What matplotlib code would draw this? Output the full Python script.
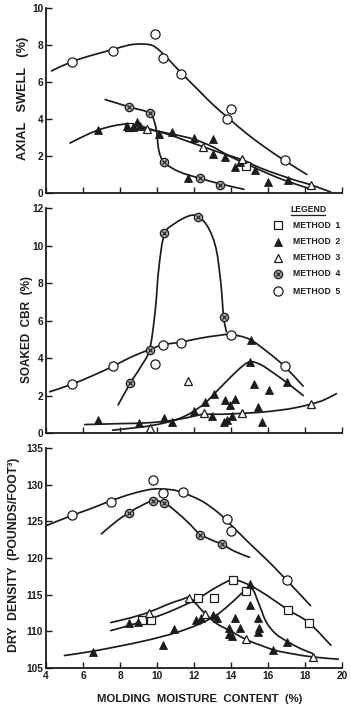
import numpy as np
import matplotlib
matplotlib.use("Agg")
import matplotlib.pyplot as plt
from matplotlib.path import Path
from matplotlib.patches import PathPatch


# ---- axial swell (%) ----
swell_m1_x = [8.5, 14.8]
swell_m1_y = [3.55, 1.45]
swell_m2_x = [6.8, 8.4, 8.7, 8.9, 9.1, 10.1, 10.8, 11.7, 12.0, 13.0, 13.0, 13.7, 14.2, 14.5, 15.3, 16.0, 17.1]
swell_m2_y = [3.4, 3.6, 3.55, 3.85, 3.6, 3.2, 3.3, 0.82, 2.95, 2.9, 2.1, 1.95, 1.4, 1.7, 1.25, 0.6, 0.7]
swell_m3_x = [9.45, 12.5, 14.6, 18.3]
swell_m3_y = [3.45, 2.5, 1.85, 0.45]
swell_m4_x = [8.5, 9.6, 10.4, 12.3, 13.4]
swell_m4_y = [4.65, 4.3, 1.65, 0.8, 0.45]
swell_m5_x = [5.4, 7.6, 9.9, 10.3, 11.3, 13.8, 14.0, 16.9]
swell_m5_y = [7.1, 7.7, 8.6, 7.3, 6.45, 4.0, 4.55, 1.8]

swell_fit_m2_x = [5.3, 6.0, 6.8, 7.6, 8.3, 9.0, 10.0, 11.0, 12.0, 13.0, 14.0, 15.0, 16.0, 17.0, 18.2]
swell_fit_m2_y = [2.7, 3.05, 3.4, 3.62, 3.72, 3.65, 3.35, 3.15, 2.9, 2.5, 1.95, 1.5, 1.05, 0.65, 0.25]
swell_fit_m3_x = [8.3, 9.45, 10.5, 11.5, 12.5, 13.5, 14.6, 15.6, 16.7, 17.6, 18.3, 19.4]
swell_fit_m3_y = [3.55, 3.45, 3.2, 2.85, 2.5, 2.15, 1.8, 1.35, 0.95, 0.65, 0.45, 0.05]
swell_fit_m4_x = [7.2, 8.5, 9.6, 9.95, 10.1, 10.4, 11.2, 12.3, 13.4, 14.7]
swell_fit_m4_y = [5.05, 4.65, 4.3, 3.5, 2.3, 1.65, 1.15, 0.8, 0.5, 0.2]
swell_fit_m5_x = [4.3, 5.4, 6.5, 7.6, 8.5, 9.2, 9.8, 10.4, 11.3, 12.2, 13.0, 13.8, 14.8, 15.8, 16.9, 18.1]
swell_fit_m5_y = [6.6, 7.1, 7.45, 7.75, 8.0, 8.05, 7.95, 7.45, 6.5, 5.6, 4.8, 4.1, 3.25, 2.5, 1.75, 1.0]

# ---- soaked CBR (%) ----
cbr_m2_x = [6.8, 9.0, 10.4, 10.8, 12.0, 12.6, 12.95, 13.1, 13.7, 13.95, 14.2, 13.6, 13.8, 14.05,
            15.05, 15.1, 15.25, 16.05, 15.45, 15.7, 17.0]
cbr_m2_y = [0.7, 0.55, 0.8, 0.6, 1.15, 1.65, 0.9, 2.1, 1.75, 1.5, 1.8, 0.6, 0.7, 0.9,
            3.8, 4.95, 2.6, 2.3, 1.4, 0.6, 2.7]
cbr_m3_x = [9.6, 11.7, 12.55, 14.6, 18.35]
cbr_m3_y = [0.25, 2.75, 1.05, 1.05, 1.55]
cbr_m4_x = [8.55, 9.6, 10.4, 12.2, 13.6]
cbr_m4_y = [2.65, 4.45, 10.65, 11.5, 6.2]
cbr_m5_x = [5.4, 7.6, 9.9, 10.3, 11.3, 14.0, 16.9]
cbr_m5_y = [2.6, 3.55, 3.7, 4.7, 4.8, 5.25, 3.6]

cbr_fit_m2_x = [7.6, 9.0, 10.0, 11.0, 11.8, 12.6, 13.3, 14.0, 14.6, 15.05, 15.6, 16.3, 17.0, 17.9]
cbr_fit_m2_y = [0.15, 0.3, 0.45, 0.7, 1.05, 1.6, 2.3, 3.0, 3.55, 3.8, 3.65, 3.2, 2.7, 2.0]
cbr_fit_m3_x = [6.1, 8.0, 9.6, 11.0, 12.0, 12.55, 13.5, 14.6, 15.5, 16.5, 17.5, 18.35, 19.0, 19.7]
cbr_fit_m3_y = [0.45, 0.5, 0.55, 0.7, 0.9, 1.0, 1.0, 1.05, 1.1, 1.2, 1.35, 1.55, 1.75, 2.1]
cbr_fit_m4_x = [7.9, 8.55, 9.1, 9.6, 9.9, 10.1, 10.4, 11.0, 11.8, 12.3, 12.8, 13.2, 13.45, 13.6, 13.75]
cbr_fit_m4_y = [1.5, 2.65, 3.5, 4.45, 6.5, 8.8, 10.6, 11.2, 11.6, 11.5, 10.9, 9.8, 8.0, 6.2, 5.4]
cbr_fit_m5_x = [4.2, 5.4, 6.5, 7.6, 8.6, 9.6, 10.3, 11.3, 12.3, 13.3, 14.0, 15.0, 16.0, 16.9, 17.9]
cbr_fit_m5_y = [2.2, 2.6, 3.05, 3.55, 4.05, 4.45, 4.7, 4.85, 5.05, 5.2, 5.25, 5.0, 4.3, 3.55, 2.5]

# ---- dry density (pcf) ----
dens_m1_x = [9.2, 9.65, 12.2, 13.1, 14.1, 14.8, 17.1, 18.2]
dens_m1_y = [111.5, 111.5, 114.5, 114.5, 117.0, 115.5, 112.9, 111.2]
dens_m2_x = [6.55, 8.5, 8.95, 10.3, 10.9, 12.1, 12.4, 13.05, 13.25, 13.9, 13.9, 14.05, 14.2, 14.5,
             15.05, 15.0, 15.45, 15.5, 15.45, 16.25, 17.05]
dens_m2_y = [107.2, 111.1, 111.3, 108.2, 110.3, 111.6, 111.8, 112.2, 111.8, 110.4, 109.7, 109.3, 111.8, 110.4,
             116.4, 113.6, 111.8, 110.4, 109.9, 107.5, 108.6]
dens_m3_x = [9.55, 11.75, 12.6, 14.8, 18.45]
dens_m3_y = [112.5, 114.5, 112.3, 108.9, 106.5]
dens_m4_x = [8.5, 9.8, 10.4, 12.3, 13.5]
dens_m4_y = [126.2, 127.8, 127.5, 123.2, 121.9]
dens_m5_x = [5.4, 7.5, 9.8, 10.3, 11.4, 13.8, 14.0, 17.0]
dens_m5_y = [125.8, 127.7, 130.6, 128.8, 129.0, 125.3, 123.7, 117.0]

dens_fit_m1_x = [7.5, 8.5, 9.5, 10.5, 11.5, 12.3, 13.2, 14.1, 15.0, 16.0, 17.1, 18.2, 19.4]
dens_fit_m1_y = [110.1, 110.8, 111.6, 112.5, 113.6, 114.6, 116.0, 117.0, 116.3, 114.8, 112.9, 111.2, 108.1]
dens_fit_m2_x = [5.0, 6.55, 8.0, 9.5, 11.0, 12.3, 13.2, 13.9, 14.5, 14.9, 15.2, 15.5, 15.9, 16.4, 17.05, 17.8, 18.4]
dens_fit_m2_y = [106.7, 107.3, 108.0, 108.8, 109.8, 111.0, 112.2, 113.6, 115.0, 115.9, 115.6, 113.8, 111.3, 109.7,
                 108.6, 107.6, 107.0]
dens_fit_m3_x = [7.5, 8.5, 9.55, 10.6, 11.3, 11.75, 12.2, 12.6, 13.2, 14.0, 14.8, 15.6, 16.4, 17.4, 18.45, 19.8]
dens_fit_m3_y = [111.2, 111.8, 112.6, 113.7, 114.3, 114.6, 113.5, 112.4, 111.1, 110.0, 108.9, 108.1, 107.4, 106.9,
                 106.5, 106.2]
dens_fit_m4_x = [7.0, 7.8, 8.5, 9.2, 9.8, 10.4, 11.0, 11.7, 12.3, 13.0, 13.5, 14.2, 15.0]
dens_fit_m4_y = [123.3, 125.0, 126.2, 127.2, 127.8, 127.5, 126.4, 124.8, 123.3, 122.4, 121.9, 120.9, 120.1]
dens_fit_m5_x = [4.0, 5.4, 6.5, 7.5, 8.7, 9.8, 10.8, 11.4, 12.4, 13.3, 14.0, 15.0, 16.0, 17.0, 18.3]
dens_fit_m5_y = [124.4, 125.8, 126.8, 127.8, 128.8, 129.4, 129.3, 128.9, 127.8, 126.2, 124.5, 122.0, 119.6, 117.0,
                 113.5]

method_labels = ["METHOD  1", "METHOD  2", "METHOD  3", "METHOD  4", "METHOD  5"]
x_ticks = [4, 6, 8, 10, 12, 14, 16, 18, 20]

INK = "#1c1c1c"
FONT = "Liberation Sans"

MARKERS = {
    1: dict(marker="s", ms=5.2, mfc="white", mec=INK, mew=0.9),
    2: dict(marker="^", ms=6.0, mfc=INK, mec=INK, mew=0.6),
    3: dict(marker="^", ms=6.4, mfc="white", mec=INK, mew=0.9),
    4: dict(marker="o", ms=6.0, mfc="#a8a8a8", mec=INK, mew=0.9),
    5: dict(marker="o", ms=6.6, mfc="white", mec=INK, mew=0.9),
}


def smooth_curve(ax, xs, ys):
    # Catmull-Rom style bezier through the fitted curve's control points
    pts = np.column_stack([xs, ys]).astype(float)
    padded = np.vstack([pts[0], pts, pts[-1]])
    verts = [pts[0]]
    codes = [Path.MOVETO]
    for i in range(1, len(padded) - 2):
        p0, p1, p2, p3 = padded[i - 1], padded[i], padded[i + 1], padded[i + 2]
        verts += [p1 + (p2 - p0) / 6.0, p2 - (p3 - p1) / 6.0, p2]
        codes += [Path.CURVE4] * 3
    ax.add_patch(PathPatch(Path(verts, codes), fill=False, edgecolor=INK, lw=1.25,
                           capstyle="round", zorder=2))


def scatter_method(ax, method, xs, ys, transform=None):
    kwargs = dict(MARKERS[method])
    extra = {} if transform is None else dict(transform=transform, clip_on=False)
    ax.plot(xs, ys, ls="none", zorder=4, **kwargs, **extra)
    if method == 4:
        ax.plot(xs, ys, ls="none", marker="x", ms=3.4, mec=INK, mew=0.8, zorder=5, **extra)


def style_axes(ax, ylim, yticks, show_xlabels):
    ax.set_xlim(4, 20)
    ax.set_ylim(*ylim)
    ax.set_xticks(x_ticks)
    ax.set_yticks(yticks)
    for side in ("top", "right"):
        ax.spines[side].set_visible(False)
    for side in ("left", "bottom"):
        ax.spines[side].set_linewidth(1.3)
        ax.spines[side].set_color(INK)
    ax.tick_params(direction="in", length=4, width=1.0, color=INK, pad=2,
                   labelsize=7.3, labelcolor=INK)
    for lab in ax.get_yticklabels() + ax.get_xticklabels():
        lab.set_fontweight("bold")
        lab.set_fontfamily(FONT)
    if not show_xlabels:
        ax.set_xticklabels([])


def set_ylabel(ax, text, x, y, size=8.5):
    ax.set_ylabel(text, fontsize=size, fontweight="bold", fontfamily=FONT, color=INK,
                  va="center")
    ax.yaxis.set_label_coords(x, y)


def draw_legend(ax):
    ax.text(0.885, 0.992, "LEGEND", transform=ax.transAxes, ha="center", va="center",
            fontsize=6.2, fontweight="bold", fontfamily=FONT, color=INK)
    ax.plot([0.827, 0.943], [0.968, 0.968], transform=ax.transAxes, color=INK, lw=0.9,
            clip_on=False)
    rows = [0.924, 0.849, 0.778, 0.707, 0.631]
    for method, label, yy in zip(range(1, 6), method_labels, rows):
        scatter_method(ax, method, [0.784], [yy], transform=ax.transAxes)
        ax.text(0.834, yy, label, transform=ax.transAxes, ha="left", va="center",
                fontsize=6.2, fontweight="bold", fontfamily=FONT, color=INK)


def main():
    fig = plt.figure(figsize=(3.51, 7.04), dpi=100)
    left, width = 46 / 351, 296 / 351
    ax_swell = fig.add_axes([left, 1 - 193 / 704, width, 185 / 704])
    ax_cbr = fig.add_axes([left, 1 - 433 / 704, width, 225 / 704])
    ax_dens = fig.add_axes([left, 1 - 668 / 704, width, 220 / 704])

    # axial swell
    for fx, fy in [(swell_fit_m2_x, swell_fit_m2_y), (swell_fit_m3_x, swell_fit_m3_y),
                   (swell_fit_m4_x, swell_fit_m4_y), (swell_fit_m5_x, swell_fit_m5_y)]:
        smooth_curve(ax_swell, fx, fy)
    scatter_method(ax_swell, 1, swell_m1_x, swell_m1_y)
    scatter_method(ax_swell, 2, swell_m2_x, swell_m2_y)
    scatter_method(ax_swell, 3, swell_m3_x, swell_m3_y)
    scatter_method(ax_swell, 4, swell_m4_x, swell_m4_y)
    scatter_method(ax_swell, 5, swell_m5_x, swell_m5_y)
    style_axes(ax_swell, (0, 10), [0, 2, 4, 6, 8, 10], False)
    set_ylabel(ax_swell, "AXIAL   SWELL   (%)", -0.078, 0.51, size=9.2)

    # soaked CBR
    for fx, fy in [(cbr_fit_m2_x, cbr_fit_m2_y), (cbr_fit_m3_x, cbr_fit_m3_y),
                   (cbr_fit_m4_x, cbr_fit_m4_y), (cbr_fit_m5_x, cbr_fit_m5_y)]:
        smooth_curve(ax_cbr, fx, fy)
    scatter_method(ax_cbr, 2, cbr_m2_x, cbr_m2_y)
    scatter_method(ax_cbr, 3, cbr_m3_x, cbr_m3_y)
    scatter_method(ax_cbr, 4, cbr_m4_x, cbr_m4_y)
    scatter_method(ax_cbr, 5, cbr_m5_x, cbr_m5_y)
    style_axes(ax_cbr, (0, 12), [0, 2, 4, 6, 8, 10, 12], False)
    set_ylabel(ax_cbr, "SOAKED  CBR  (%)", -0.064, 0.46)
    draw_legend(ax_cbr)

    # dry density
    for fx, fy in [(dens_fit_m1_x, dens_fit_m1_y), (dens_fit_m2_x, dens_fit_m2_y),
                   (dens_fit_m3_x, dens_fit_m3_y), (dens_fit_m4_x, dens_fit_m4_y),
                   (dens_fit_m5_x, dens_fit_m5_y)]:
        smooth_curve(ax_dens, fx, fy)
    scatter_method(ax_dens, 1, dens_m1_x, dens_m1_y)
    scatter_method(ax_dens, 2, dens_m2_x, dens_m2_y)
    scatter_method(ax_dens, 3, dens_m3_x, dens_m3_y)
    scatter_method(ax_dens, 4, dens_m4_x, dens_m4_y)
    scatter_method(ax_dens, 5, dens_m5_x, dens_m5_y)
    style_axes(ax_dens, (105, 135), [105, 110, 115, 120, 125, 130, 135], True)
    set_ylabel(ax_dens, "DRY  DENSITY  (POUNDS/FOOT³)", -0.108, 0.515, size=8.8)
    ax_dens.set_xlabel("MOLDING  MOISTURE  CONTENT  (%)", fontsize=8.2, fontweight="bold",
                       fontfamily=FONT, color=INK, va="center")
    ax_dens.xaxis.set_label_coords(0.52, -0.142)

    fig.savefig("out.png", dpi=100, facecolor="white")
    plt.close(fig)


if __name__ == "__main__":
    main()
